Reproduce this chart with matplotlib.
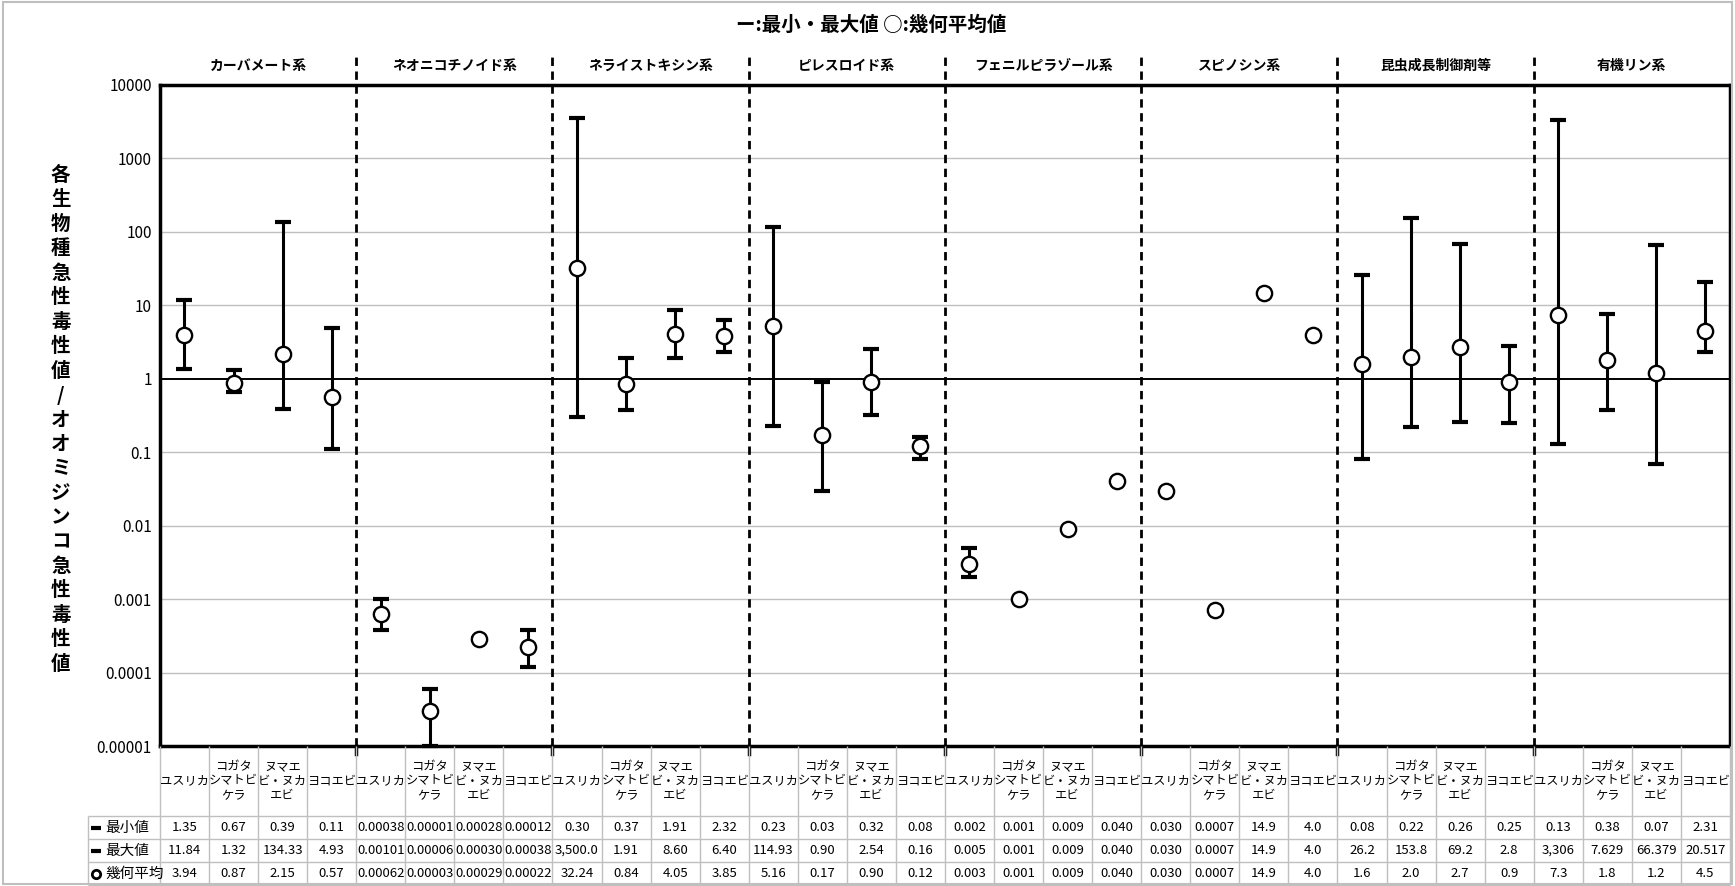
import numpy as np
import matplotlib
matplotlib.use('Agg')
import matplotlib.pyplot as plt
from matplotlib.patches import Rectangle
from matplotlib.ticker import NullLocator

plt.rcParams['font.family'] = ['Noto Sans CJK JP', 'DejaVu Sans']

# 系統ごとの分類と生物種
groups = ['カーバメート系', 'ネオニコチノイド系', 'ネライストキシン系', 'ピレスロイド系',
          'フェニルピラゾール系', 'スピノシン系', '昆虫成長制御剤等', '有機リン系']
species = ['ユスリカ', 'コガタ\nシマトビ\nケラ', 'ヌマエ\nビ・ヌカ\nエビ', 'ヨコエビ']

# 表に載せる値（文字列のまま保持し、プロットには数値化して使う）
min_text = ['1.35', '0.67', '0.39', '0.11',
            '0.00038', '0.00001', '0.00028', '0.00012',
            '0.30', '0.37', '1.91', '2.32',
            '0.23', '0.03', '0.32', '0.08',
            '0.002', '0.001', '0.009', '0.040',
            '0.030', '0.0007', '14.9', '4.0',
            '0.08', '0.22', '0.26', '0.25',
            '0.13', '0.38', '0.07', '2.31']
max_text = ['11.84', '1.32', '134.33', '4.93',
            '0.00101', '0.00006', '0.00030', '0.00038',
            '3,500.0', '1.91', '8.60', '6.40',
            '114.93', '0.90', '2.54', '0.16',
            '0.005', '0.001', '0.009', '0.040',
            '0.030', '0.0007', '14.9', '4.0',
            '26.2', '153.8', '69.2', '2.8',
            '3,306', '7.629', '66.379', '20.517']
mean_text = ['3.94', '0.87', '2.15', '0.57',
             '0.00062', '0.00003', '0.00029', '0.00022',
             '32.24', '0.84', '4.05', '3.85',
             '5.16', '0.17', '0.90', '0.12',
             '0.003', '0.001', '0.009', '0.040',
             '0.030', '0.0007', '14.9', '4.0',
             '1.6', '2.0', '2.7', '0.9',
             '7.3', '1.8', '1.2', '4.5']
row_names = ['最小値', '最大値', '幾何平均']

yticks = [1e-5, 1e-4, 1e-3, 1e-2, 1e-1, 1, 10, 100, 1000, 10000]
ytick_labels = ['0.00001', '0.0001', '0.001', '0.01', '0.1', '1', '10', '100', '1000', '10000']


def to_num(texts):
    return np.array([float(t.replace(',', '')) for t in texts])


lo = to_num(min_text)
hi = to_num(max_text)
gm = to_num(mean_text)

n_sp = len(species)
n = n_sp * len(groups)
x = np.arange(n)

fig = plt.figure(figsize=(17.35, 8.86), dpi=100)
fig.patches.append(Rectangle((0.002, 0.002), 0.996, 0.996, transform=fig.transFigure,
                             fill=False, ec='#BFBFBF', lw=1.5))

ax_l, ax_w = 0.0922, 0.9049
ax = fig.add_axes([ax_l, 0.158, ax_w, 0.7461])
ax.set_yscale('log')
ax.set_ylim(1e-5, 1e4)
ax.set_xlim(-0.5, n - 0.5)
ax.set_yticks(yticks)
ax.set_yticklabels(ytick_labels)
ax.yaxis.set_minor_locator(NullLocator())
ax.set_xticks([])
ax.tick_params(axis='y', length=0, pad=6, labelsize=11)
for s in ax.spines.values():
    s.set_linewidth(2.5)

for t in yticks[1:-1]:
    if t == 1:
        ax.axhline(t, color='black', lw=1.4, zorder=1)
    else:
        ax.axhline(t, color='#BFBFBF', lw=1, zorder=0)

# 最小～最大のエラーバーと幾何平均の丸
bar = hi > lo
eb = ax.errorbar(x[bar], gm[bar], yerr=[gm[bar] - lo[bar], hi[bar] - gm[bar]], fmt='none',
                 ecolor='black', elinewidth=2.2, capsize=5.5, capthick=3, zorder=2)
for art in eb.lines[1] + eb.lines[2]:
    art.set_clip_on(False)
ax.plot(x, gm, 'o', ls='none', ms=11, mfc='white', mec='black', mew=1.7, zorder=3)

# 系統の区切りと系統名
xt = ax.get_xaxis_transform()
for b in range(1, len(groups)):
    xb = b * n_sp - 0.5
    ax.plot([xb, xb], [0, 1.048], transform=xt, ls=(0, (3, 2)), color='black', lw=2,
            clip_on=False, zorder=4)
    ax.plot([xb, xb], [-0.012, 0], transform=xt, color='black', lw=2.5, clip_on=False)
for g, name in enumerate(groups):
    ax.text(g * n_sp + (n_sp - 1) / 2, 1.029, name, transform=xt, ha='center', va='center',
            fontsize=10, fontweight='bold')

fig.text(0.502, 0.972, 'ー:最小・最大値 ○:幾何平均値', ha='center', va='center',
         fontsize=14, fontweight='bold')
fig.text(0.035, 0.526, '\n'.join('各生物種急性毒性値/オオミジンコ急性毒性値'), ha='center',
         va='center', fontsize=14, fontweight='bold', linespacing=1.36)

# 下の数値表
ax_t = fig.add_axes([ax_l, 0.0011, ax_w, 0.1569])
ax_t.set_xlim(-0.5, n - 0.5)
ax_t.set_ylim(139, 0)
ax_t.axis('off')
grid_c = '#BFBFBF'
bounds = [70, 93, 116, 139]
label_left = -0.5 - 1.47
ax_t.vlines(np.arange(n + 1) - 0.5, 0, 139, color=grid_c, lw=1, clip_on=False)
ax_t.vlines(label_left, 70, 139, color=grid_c, lw=1, clip_on=False)
ax_t.hlines(bounds, label_left, n - 0.5, color=grid_c, lw=1, clip_on=False)

for i in range(n):
    ax_t.text(i, 35, species[i % n_sp], ha='center', va='center', fontsize=8.8,
              linespacing=1.15)

for r, texts in enumerate([min_text, max_text, mean_text]):
    yc = (bounds[r] + bounds[r + 1]) / 2
    for i, t in enumerate(texts):
        ax_t.text(i, yc, t, ha='center', va='center', fontsize=9.5)
    kx = label_left + 0.17
    if r < 2:
        ax_t.plot([kx - 0.1, kx + 0.1], [yc, yc], color='black', lw=3, clip_on=False,
                  solid_capstyle='butt')
    else:
        ax_t.plot(kx, yc, 'o', ms=6, mfc='white', mec='black', mew=2, clip_on=False)
    ax_t.text(label_left + 0.35, yc, row_names[r], ha='left', va='center', fontsize=10.5)

fig.savefig('out.png', dpi=100)
